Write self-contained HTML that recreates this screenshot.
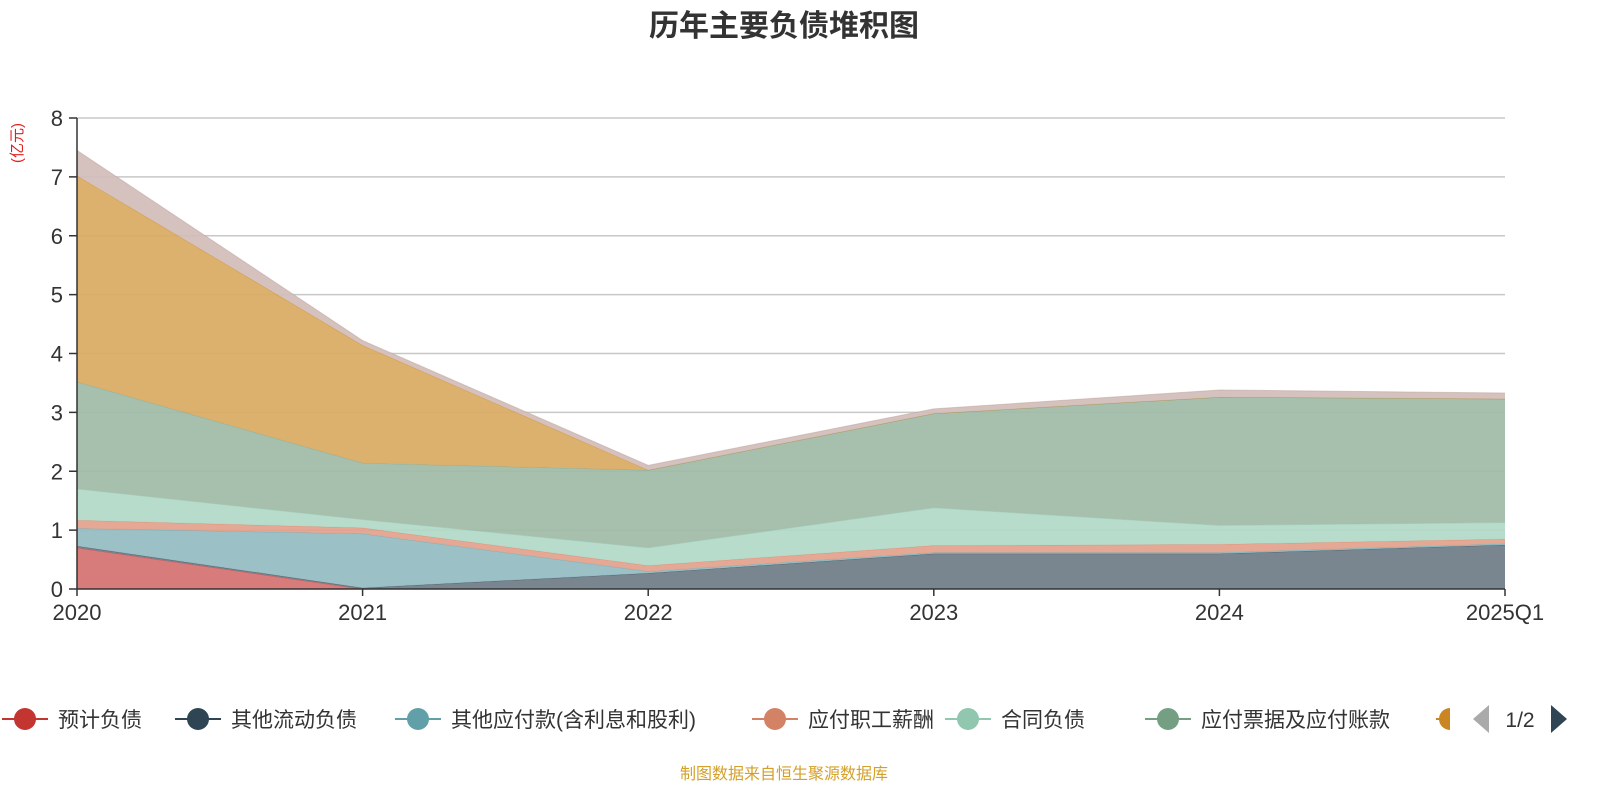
<!DOCTYPE html>
<html><head><meta charset="utf-8"><style>
body{margin:0;background:#fff;font-family:"Liberation Sans","Noto Sans CJK SC",sans-serif;}
svg text{font-family:"Liberation Sans","Noto Sans CJK SC",sans-serif;}
</style></head><body>
<svg id="c" width="1600" height="800">
<text x="784" y="36" text-anchor="middle" font-size="30" font-weight="bold" fill="#333">历年主要负债堆积图</text>
<text transform="translate(22,143) rotate(-90)" text-anchor="middle" font-size="15" fill="#e02020">(亿元)</text>
<g id="grid"></g><g id="areas"></g><g id="axes"></g><g id="legend"></g>
<text x="784" y="779" text-anchor="middle" font-size="16" fill="#d4a02a">制图数据来自恒生聚源数据库</text>
</svg>
<script>
const categories=["2020","2021","2022","2023","2024","2025Q1"];
const yTicks=[0,1,2,3,4,5,6,7,8];
const seriesNames=["预计负债","其他流动负债","其他应付款(含利息和股利)","应付职工薪酬","合同负债","应付票据及应付账款","短期借款","其他"];
const sYujifuzhai=[0.7,0,0,0,0,0];
const sQitaliudong=[0.03,0.02,0.27,0.6,0.6,0.75];
const sQitayingfu=[0.3,0.92,0.03,0.02,0.02,0.02];
const sZhigong=[0.14,0.1,0.1,0.12,0.14,0.08];
const sHetong=[0.53,0.14,0.3,0.64,0.32,0.28];
const sYingfu=[1.82,0.96,1.32,1.6,2.18,2.1];
const sDuanqi=[3.5,2.0,0,0,0,0];
const sQita=[0.43,0.08,0.08,0.08,0.12,0.1];
const fills=["#d47070","#6e7b86","#92bcc2","#e2a18b","#b1d9c7","#9fbba7","#d9aa62","#d1bdba"];
const strokes=["#c23531","#2f4554","#61a0a8","#d48265","#91c7ae","#749f83","#ca8622","#bda29a"];
const NS="http://www.w3.org/2000/svg";
const X0=77,X1=1505,Y0=589,Y1=118;
const x=i=>X0+i*(X1-X0)/(categories.length-1);
const y=v=>Y0-v*(Y0-Y1)/8;
function mk(t,a,p){const e=document.createElementNS(NS,t);for(const k in a)e.setAttribute(k,a[k]);p.appendChild(e);return e;}
const grid=document.getElementById('grid'),axes=document.getElementById('axes'),areas=document.getElementById('areas'),leg=document.getElementById('legend');
yTicks.forEach(t=>{
 if(t>0){const l=mk('line',{x1:X0,x2:X1,y1:y(t),y2:y(t),stroke:'#c8c8c8','stroke-width':1.5},grid);
 
 }
 const tk=mk('line',{x1:X0-8,x2:X0,y1:y(t),y2:y(t),stroke:'#333','stroke-width':1.5},axes);
 
 
 const tx=mk('text',{x:X0-14,y:y(t)+8,'text-anchor':'end','font-size':22,fill:'#333'},axes);tx.textContent=t;
 
 
});
const all=[sYujifuzhai,sQitaliudong,sQitayingfu,sZhigong,sHetong,sYingfu,sDuanqi,sQita];
let base=categories.map(()=>0);
all.forEach((s,k)=>{
 const top=base.map((b,i)=>b+s[i]);
 let d='M'+top.map((v,i)=>x(i)+','+y(v)).join('L');
 for(let i=categories.length-1;i>=0;i--)d+='L'+x(i)+','+y(base[i]);
 const p=mk('path',{d:d+'Z',fill:fills[k],'fill-opacity':0.92},areas);
 
 
 const ln=mk('polyline',{points:top.map((v,i)=>x(i)+','+y(v)).join(' '),fill:'none',stroke:strokes[k],'stroke-width':1,'stroke-opacity':0.5},areas);
 
 
 base=top;
});
const ya=mk('line',{x1:X0,x2:X0,y1:Y1,y2:Y0,stroke:'#333','stroke-width':1.5},axes);


const xa=mk('line',{x1:X0,x2:X1,y1:Y0,y2:Y0,stroke:'#333','stroke-width':1.5},axes);


categories.forEach((c,i)=>{
 const tk=mk('line',{x1:x(i),x2:x(i),y1:Y0,y2:Y0+7,stroke:'#333','stroke-width':1.5},axes);
 
 
 const t=mk('text',{x:x(i),y:Y0+31,'text-anchor':'middle','font-size':22,fill:'#333'},axes);t.textContent=c;
 
 
});
const legX=[25,198,418,775,968,1168];
legX.forEach((cx,k)=>{
 const g=mk('g',{},leg);
 
 
 mk('line',{x1:cx-23,x2:cx+23,y1:719,y2:719,stroke:strokes[k],'stroke-width':2},g);
 mk('circle',{cx:cx,cy:719,r:11,fill:strokes[k]},g);
 const t=mk('text',{x:cx+33,y:727,'font-size':21,fill:'#333'},g);t.textContent=seriesNames[k];
});
const pg=mk('line',{x1:1436,x2:1450,y1:719,y2:719,stroke:strokes[6],'stroke-width':2},leg);


const pc=mk('path',{d:'M1450,708 A11,11 0 0 0 1450,730 Z',fill:strokes[6]},leg);


const pl=mk('path',{d:'M1489,705 L1489,733 L1473,719 Z',fill:'#aaa'},leg);


const pt=mk('text',{x:1520,y:727,'text-anchor':'middle','font-size':21,fill:'#333'},leg);pt.textContent='1/2';


const pn=mk('path',{d:'M1551,705 L1551,733 L1567,719 Z',fill:'#2f4554'},leg);


</script>
</body></html>
